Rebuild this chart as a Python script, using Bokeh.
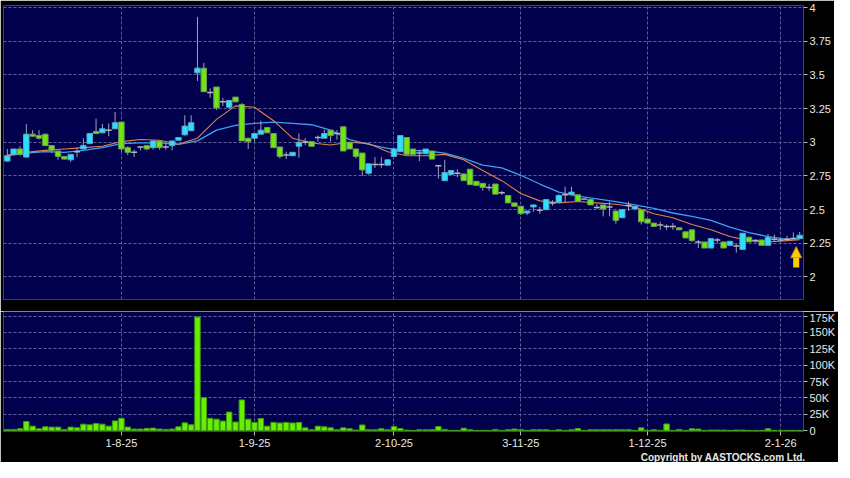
from bokeh.plotting import figure
from bokeh.layouts import column
from bokeh.models import Range1d, FixedTicker, Title, Arrow, NormalHead, LinearAxis
from bokeh.embed import file_html
from bokeh.resources import INLINE

# ---------------- data ----------------
opens = [2.86, 2.91, 2.95, 2.89, 3.06, 3.05, 3.06, 2.975, 2.935, 2.895,
         2.87, 2.93, 2.95, 2.99, 3.08, 3.07, 3.09, 3.10, 3.15, 2.96,
         2.925, 2.965, 2.975, 2.96, 3.01, 2.965, 2.975, 3.015, 3.055, 3.085,
         3.515, 3.55, 3.37, 3.41, 3.30, 3.26, 3.335, 3.28, 3.03, 3.03,
         3.06, 3.11, 3.065, 2.965, 2.905, 2.90, 2.97, 3.00, 3.005, 3.035,
         3.03, 3.09, 3.065, 3.115, 3.00, 2.95, 2.92, 2.77, 2.835, 2.835,
         2.83, 2.895, 2.93, 3.035, 2.95, 2.92, 2.915, 2.935, 2.825, 2.715,
         2.76, 2.77, 2.765, 2.80, 2.71, 2.695, 2.665, 2.69, 2.625, 2.605,
         2.55, 2.525, 2.475, 2.52, 2.495, 2.50, 2.55, 2.555, 2.61, 2.61,
         2.61, 2.575, 2.575, 2.515, 2.535, 2.52, 2.49, 2.44, 2.53, 2.505,
         2.50, 2.43, 2.40, 2.385, 2.375, 2.375, 2.365, 2.335, 2.35, 2.26,
         2.26, 2.215, 2.275, 2.26, 2.235, 2.23, 2.205, 2.295, 2.27, 2.275,
         2.235, 2.28, 2.275, 2.28, 2.285, 2.285]
highs = [2.95, 2.95, 2.97, 3.135, 3.09, 3.09, 3.06, 2.975, 2.935, 2.895,
         2.91, 2.96, 3.03, 3.065, 3.175, 3.135, 3.14, 3.225, 3.15, 2.97,
         2.945, 2.97, 2.98, 3.01, 3.01, 2.99, 3.01, 3.035, 3.20, 3.20,
         3.93, 3.59, 3.40, 3.41, 3.33, 3.31, 3.335, 3.29, 3.03, 3.065,
         3.16, 3.11, 3.065, 2.965, 2.93, 2.925, 3.065, 3.03, 3.005, 3.05,
         3.095, 3.09, 3.09, 3.115, 3.00, 2.95, 2.92, 2.84, 2.89, 2.89,
         2.87, 2.95, 3.05, 3.035, 2.95, 2.945, 2.95, 2.935, 2.825, 2.87,
         2.79, 2.80, 2.765, 2.80, 2.71, 2.695, 2.69, 2.69, 2.64, 2.605,
         2.55, 2.525, 2.49, 2.535, 2.52, 2.575, 2.57, 2.615, 2.67, 2.67,
         2.61, 2.585, 2.575, 2.54, 2.535, 2.56, 2.49, 2.50, 2.56, 2.525,
         2.50, 2.43, 2.40, 2.41, 2.39, 2.40, 2.365, 2.335, 2.35, 2.275,
         2.26, 2.285, 2.29, 2.26, 2.265, 2.25, 2.325, 2.30, 2.28, 2.275,
         2.32, 2.315, 2.29, 2.305, 2.33, 2.335]
lows = [2.855, 2.91, 2.90, 2.885, 3.04, 3.02, 2.975, 2.92, 2.87, 2.87,
        2.855, 2.89, 2.95, 2.985, 3.06, 3.07, 3.045, 3.10, 2.93, 2.905,
        2.89, 2.94, 2.94, 2.945, 2.945, 2.945, 2.94, 3.015, 3.05, 3.085,
        3.455, 3.375, 3.33, 3.24, 3.27, 3.25, 3.30, 3.01, 2.95, 3.005,
        3.06, 3.07, 2.96, 2.88, 2.875, 2.90, 2.885, 2.98, 2.97, 3.005,
        3.03, 3.005, 3.02, 2.935, 2.95, 2.88, 2.75, 2.76, 2.81, 2.81,
        2.83, 2.89, 2.93, 2.91, 2.91, 2.86, 2.915, 2.87, 2.73, 2.715,
        2.76, 2.74, 2.715, 2.685, 2.68, 2.64, 2.64, 2.615, 2.61, 2.55,
        2.52, 2.46, 2.46, 2.485, 2.47, 2.50, 2.53, 2.555, 2.555, 2.61,
        2.56, 2.575, 2.535, 2.505, 2.45, 2.45, 2.395, 2.44, 2.49, 2.505,
        2.39, 2.40, 2.375, 2.35, 2.35, 2.35, 2.35, 2.29, 2.26, 2.215,
        2.215, 2.215, 2.25, 2.215, 2.235, 2.18, 2.205, 2.26, 2.255, 2.235,
        2.235, 2.265, 2.265, 2.27, 2.28, 2.285]
closes = [2.90, 2.95, 2.91, 3.06, 3.045, 3.03, 2.975, 2.94, 2.895, 2.875,
          2.91, 2.93, 2.975, 3.065, 3.065, 3.10, 3.09, 3.145, 2.95, 2.925,
          2.925, 2.965, 2.95, 3.01, 2.96, 2.965, 3.01, 3.035, 3.12, 3.145,
          3.55, 3.375, 3.37, 3.255, 3.30, 3.31, 3.30, 3.01, 3.005, 3.065,
          3.09, 3.07, 2.96, 2.895, 2.905, 2.925, 3.00, 3.00, 2.97, 3.035,
          3.065, 3.05, 3.065, 2.935, 2.95, 2.895, 2.795, 2.84, 2.835, 2.835,
          2.87, 2.95, 3.05, 2.91, 2.91, 2.92, 2.95, 2.875, 2.825, 2.775,
          2.79, 2.77, 2.715, 2.685, 2.68, 2.665, 2.665, 2.615, 2.625, 2.55,
          2.525, 2.47, 2.49, 2.535, 2.495, 2.575, 2.55, 2.605, 2.61, 2.63,
          2.56, 2.58, 2.535, 2.515, 2.505, 2.52, 2.42, 2.50, 2.53, 2.525,
          2.41, 2.40, 2.375, 2.385, 2.375, 2.375, 2.35, 2.29, 2.27, 2.26,
          2.215, 2.285, 2.275, 2.215, 2.265, 2.23, 2.325, 2.26, 2.27, 2.235,
          2.295, 2.28, 2.275, 2.28, 2.285, 2.31]
volumes_k = [2, 2, 3, 14, 7, 3, 6, 5.5, 5.5, 2,
             5.5, 4.5, 10, 9, 11, 10, 7, 15, 19, 5.5,
             2.5, 2.5, 3.5, 4, 2.5, 2, 2.5, 6, 12, 9,
             173.5, 50.5, 19, 17.6, 14.7, 28.4, 13.2, 47, 17.6, 12.7,
             18.6, 6.9, 12.7, 11.8, 12.7, 11.8, 12.7, 4.4, 1.5, 6.9,
             5.9, 4.4, 1.5, 4.4, 3, 1, 8.8, 1.5, 1.5, 3,
             1.5, 6.4, 3.4, 1, 0.5, 1.5, 1.5, 1.5, 6.4, 2,
             0.5, 0.5, 3.9, 1.5, 0.5, 0.5, 0.5, 2, 0.5, 1.5,
             2.5, 1.5, 0.5, 1.5, 1.5, 1.5, 0.5, 1.5, 0.5, 1.5,
             3.4, 0.5, 1.5, 1.5, 1.5, 1.5, 1.5, 1.5, 1.5, 0.5,
             4.4, 0.5, 1.5, 0.5, 10.3, 0.5, 2, 0.5, 3, 2.5,
             0.5, 1, 1, 1, 0.5, 1, 1, 0.5, 0.5, 0.5,
             3, 0.5, 0.5, 0.5, 0.5, 0.5]

ma_idx = [0, 3, 6, 9, 12, 15, 18, 21, 24, 27, 30, 33, 36, 39, 42, 45, 48, 51, 54, 57,
          60, 63, 66, 69, 72, 75, 78, 81, 84, 87, 90, 93, 96, 99, 102, 105, 108, 111,
          114, 117, 120, 123, 125]
ma_short = [2.905, 2.925, 2.94, 2.95, 2.96, 2.97, 3.005, 3.02, 3.015, 2.985, 3.03, 3.17,
            3.27, 3.26, 3.16, 3.03, 2.995, 2.98, 3.0, 2.99, 2.93, 2.90, 2.90, 2.91, 2.87,
            2.79, 2.715, 2.62, 2.565, 2.55, 2.56, 2.55, 2.54, 2.52, 2.47, 2.44, 2.39, 2.35,
            2.30, 2.27, 2.26, 2.27, 2.277]
ma_long = [2.90, 2.92, 2.93, 2.925, 2.94, 2.96, 2.99, 2.995, 2.995, 2.985, 3.01, 3.09,
           3.125, 3.14, 3.15, 3.14, 3.13, 3.09, 3.02, 2.985, 2.955, 2.94, 2.937, 2.92,
           2.88, 2.83, 2.81, 2.755, 2.69, 2.63, 2.60, 2.58, 2.56, 2.535, 2.51, 2.475,
           2.45, 2.42, 2.37, 2.33, 2.30, 2.28, 2.285]

price_ticks = [2, 2.25, 2.5, 2.75, 3, 3.25, 3.5, 3.75, 4]
price_tick_labels = ["2", "2.25", "2.5", "2.75", "3", "3.25", "3.5", "3.75", "4"]
vol_ticks = [0, 25, 50, 75, 100, 125, 150, 175]
vol_tick_labels = ["0", "25K", "50K", "75K", "100K", "125K", "150K", "175K"]
date_ticks = [18, 39, 61, 81, 101, 122]
date_labels = ["1-8-25", "1-9-25", "2-10-25", "3-11-25", "1-12-25", "2-1-26"]
copyright_text = "Copyright by AASTOCKS.com Ltd."

# ---------------- styling ----------------
NAVY = "#00004c"
GRID = "#5f5f96"
TXT = "#e8e8e8"
CYAN = "#26e2ff"
GREEN = "#6ee614"
WICK = "#9da3b4"
FONT = "Liberation Sans"

n = len(closes)
idx = list(range(n))
up = [i for i in idx if closes[i] > opens[i]]
dn = [i for i in idx if closes[i] < opens[i]]
fl = [i for i in idx if closes[i] == opens[i]]

x_range = Range1d(-0.6, n - 0.4)


def style_axis(ax):
    ax.axis_line_color = None
    ax.major_tick_line_color = "#bbbbbb"
    ax.major_tick_out = 4
    ax.major_tick_in = 0
    ax.minor_tick_line_color = None
    ax.major_label_text_color = TXT
    ax.major_label_text_font = FONT
    ax.major_label_text_font_size = "11px"


def base_fig(frame_h, y_range, ticks, labels):
    f = figure(frame_width=800, frame_height=frame_h, x_range=x_range, y_range=y_range,
               output_backend="svg", toolbar_location=None, y_axis_location="right",
               x_axis_location=None, background_fill_color=NAVY, border_fill_color="black",
               outline_line_color=None, min_border_left=3, min_border_right=31,
               min_border_top=0, min_border_bottom=0)
    for g, tk in ((f.xgrid, date_ticks), (f.ygrid, ticks)):
        g.ticker = FixedTicker(ticks=tk)
        g.grid_line_color = GRID
        g.grid_line_dash = "3 2"
        g.grid_line_width = 1
    ax = f.yaxis[0]
    ax.ticker = FixedTicker(ticks=ticks)
    ax.major_label_overrides = {t: l for t, l in zip(ticks, labels)}
    style_axis(ax)
    ax.major_label_standoff = 2
    return f


# ---------------- price panel ----------------
p1 = base_fig(294, Range1d(1.833, 4.015), price_ticks, price_tick_labels)
p1.min_border_top = 5
p1.min_border_bottom = 12

p1.line(ma_idx, ma_long, line_color="#3d9ff0", line_width=1.3)
p1.line(ma_idx, ma_short, line_color="#e0834c", line_width=1.1)

p1.segment(x0=idx, y0=lows, x1=idx, y1=highs, line_color=WICK, line_width=1)
p1.vbar(x=up, width=0.86, top=[closes[i] for i in up], bottom=[opens[i] for i in up],
        fill_color=CYAN, line_color="#5fa6c4", line_width=1)
p1.vbar(x=dn, width=0.86, top=[opens[i] for i in dn], bottom=[closes[i] for i in dn],
        fill_color=GREEN, line_color="#6f9a58", line_width=1)
p1.scatter(x=fl, y=[closes[i] for i in fl], marker="dash", size=6,
           line_color="#b4b4bc", line_width=1.5)

# yellow arrow under the latest candle
xa = n - 1.55
arrow = Arrow(end=NormalHead(size=11, fill_color="#ffcc00", line_color="#c89400", line_width=1),
              x_start=xa, y_start=lows[-1] - 0.215, x_end=xa, y_end=lows[-1] - 0.06,
              line_color="#ffcc00", line_width=6)
p1.add_layout(arrow)

# ---------------- volume panel ----------------
p2 = base_fig(120, Range1d(-1.2, 182), vol_ticks, vol_tick_labels)
p2.vbar(x=idx, width=0.86, top=volumes_k, bottom=0, fill_color="#66f000",
        line_color="#3f9a10", line_width=1)

xa_axis = LinearAxis(ticker=FixedTicker(ticks=date_ticks),
                     major_label_overrides={t: l for t, l in zip(date_ticks, date_labels)})
style_axis(xa_axis)
xa_axis.major_label_standoff = 3
p2.add_layout(xa_axis, "below")

p2.add_layout(Title(text=copyright_text, align="right", text_font_size="10px",
                    text_font_style="bold", text_color=TXT, text_font=FONT,
                    standoff=0, offset=-2), "below")

layout = column(p1, p2, spacing=0)
open("out.html", "w").write(file_html(layout, INLINE))
